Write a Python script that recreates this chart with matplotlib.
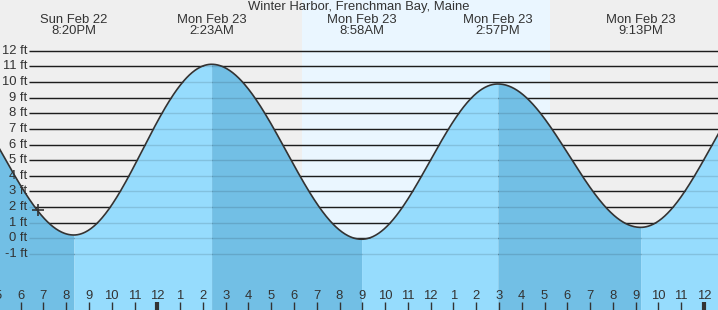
import numpy as np
import matplotlib
matplotlib.use("Agg")
import matplotlib.pyplot as plt

# Tide extremes, hours relative to midnight Mon Feb 23 (first and last lie off-chart)
extreme_hours = [-9.9, -3.667, 2.383, 8.967, 14.95, 21.217, 27.4]
extreme_feet = [10.5, 0.21, 11.14, -0.06, 9.88, 0.70, 11.0]
extreme_labels = [None, "Sun Feb 22\n8:20PM", "Mon Feb 23\n2:23AM", "Mon Feb 23\n8:58AM",
                  "Mon Feb 23\n2:57PM", "Mon Feb 23\n9:13PM", None]

sunrise_hour = 6.35
sunset_hour = 17.23
now_hour = -5.25
now_feet = 1.8

grid_feet = list(range(-1, 13))
hour_ticks = list(range(-7, 25))
title = "Winter Harbor, Frenchman Bay, Maine"

# colours
BG_NIGHT = "#efefef"
BG_DAY = "#eaf6ff"
FILL_RISE = "#96dcfd"
FILL_FALL = "#72bfe5"
TXT = "#333333"
FS = 9.4

plt.rcParams["font.family"] = ["Liberation Sans", "DejaVu Sans"]

# pixel based scales (718 x 310 canvas)
PX_H = 22.78
X0 = 157.3
PX_FT = 15.62
Y0 = 238.3
xlim = (-X0 / PX_H, (718 - X0) / PX_H)
ylim = ((Y0 - 310) / PX_FT, Y0 / PX_FT)


def px_x(px):
    return (px - X0) / PX_H


def px_y(py):
    return (Y0 - py) / PX_FT


fig = plt.figure(figsize=(7.18, 3.10), dpi=100)
ax = fig.add_axes([0, 0, 1, 1])
ax.set_xlim(*xlim)
ax.set_ylim(*ylim)
ax.axis("off")
ax.add_patch(plt.Rectangle((0, 0), 1, 1, transform=ax.transAxes, color=BG_NIGHT, zorder=0))
ax.axvspan(sunrise_hour, sunset_hour, color=BG_DAY, zorder=0.5, lw=0)

# grid lines
ax.hlines(grid_feet, px_x(29), xlim[1], color="#222222", lw=1.0, zorder=1)
for f in grid_feet:
    ax.text(px_x(27), f, f"{f} ft", ha="right", va="center", fontsize=FS, color=TXT, zorder=6)

# tide curve, cosine between extremes
all_t, all_h = [], []
for i in range(len(extreme_hours) - 1):
    t1, t2 = extreme_hours[i], extreme_hours[i + 1]
    h1, h2 = extreme_feet[i], extreme_feet[i + 1]
    t = np.linspace(t1, t2, 200)
    h = h2 + (h1 - h2) * (1 + np.cos(np.pi * (t - t1) / (t2 - t1))) / 2
    col = FILL_FALL if h1 > h2 else FILL_RISE
    ax.fill_between(t, ylim[0], h, color=col, lw=0, zorder=2)
    all_t.append(t)
    all_h.append(h)
all_t = np.concatenate(all_t)
all_h = np.concatenate(all_h)

# faint grid lines seen through the water
ax.hlines(grid_feet, px_x(29), xlim[1], color="black", alpha=0.12, lw=1.0, zorder=3)
ax.plot(all_t, all_h, color=TXT, lw=1.2, zorder=4)
ax.plot([now_hour], [now_feet], marker="+", ms=9, mew=1.2, color=TXT, zorder=5)

# extreme labels and title
for t, lab in zip(extreme_hours, extreme_labels):
    if lab is None:
        continue
    l1, l2 = lab.split("\n")
    ax.text(t, px_y(19.7), l1, ha="center", va="center", fontsize=FS, color=TXT)
    ax.text(t, px_y(31.5), l2, ha="center", va="center", fontsize=FS, color=TXT)
ax.text(px_x(359), px_y(7), title, ha="center", va="center", fontsize=FS, color=TXT)

# hour ticks
for hr in hour_ticks:
    lab = (hr - 1) % 12 + 1
    ax.text(hr, px_y(296), str(lab), ha="center", va="center", fontsize=FS, color=TXT, zorder=6)
    lw = 3 if hr % 24 == 0 else 1
    ax.vlines(hr, ylim[0], px_y(302), color=TXT, lw=lw, zorder=6)

fig.savefig("out.png", dpi=100)
